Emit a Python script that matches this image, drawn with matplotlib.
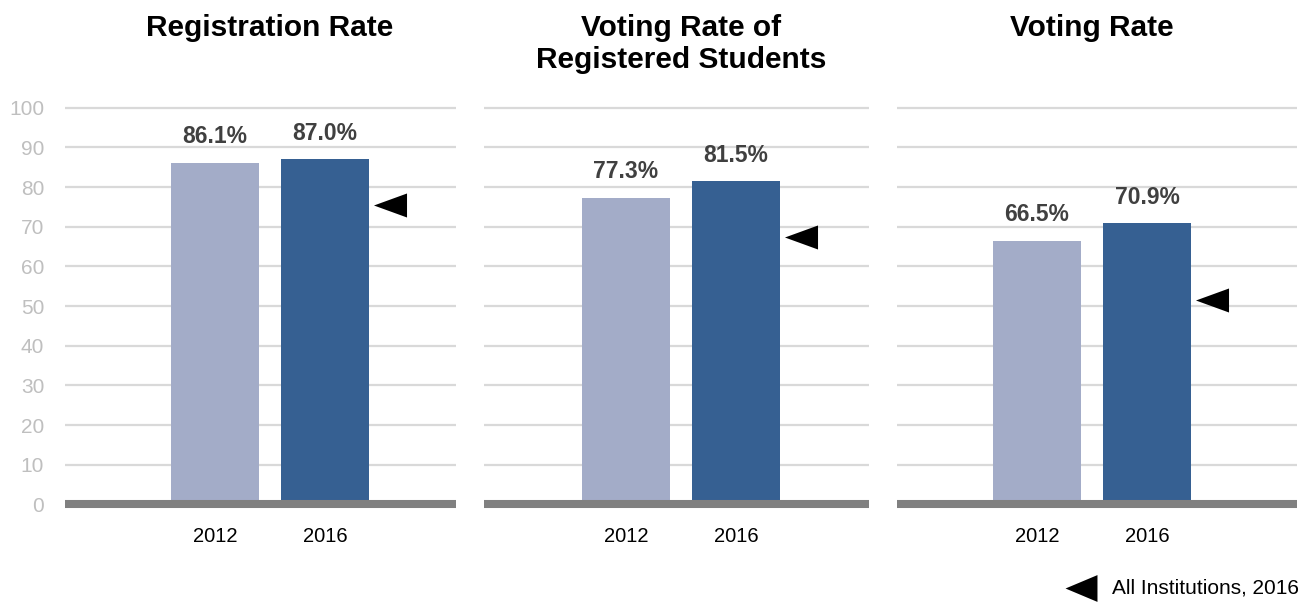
import matplotlib
matplotlib.use("Agg")
import matplotlib.pyplot as plt
from matplotlib.lines import Line2D

plt.rcParams['font.family'] = ['Liberation Sans', 'DejaVu Sans']

# ---- data ----
years = ['2012', '2016']
titles = ['Registration Rate', 'Voting Rate of\nRegistered Students', 'Voting Rate']
rate_2012 = [86.1, 77.3, 66.5]
rate_2016 = [87.0, 81.5, 70.9]
all_institutions_2016 = [75.4, 67.5, 51.4]
legend_label = 'All Institutions, 2016'
yticks = [0, 10, 20, 30, 40, 50, 60, 70, 80, 90, 100]

# ---- style ----
c_2012 = '#a3acc8'
c_2016 = '#366092'
grid_c = '#d9d9d9'
base_c = '#808080'
W, H = 1302, 604
fig = plt.figure(figsize=(W / 100, H / 100), dpi=100)

# panel extents in pixels (left, right) and x-limits
panels_px = [(65, 456), (484, 869), (897, 1297)]
xlims = [(-1.364, 2.19), (-1.29, 2.21), (-1.27, 2.36)]
top_px, bot_px = 107.7, 504.4

tri = [(-1, 0), (1, -0.727), (1, 0.727)]

for i in range(3):
    l, r = panels_px[i]
    ax = fig.add_axes([l / W, (H - bot_px) / H, (r - l) / W, (bot_px - top_px) / H])
    ax.set_xlim(*xlims[i])
    ax.set_ylim(0, 100)
    ax.patch.set_alpha(0)
    for s in ax.spines.values():
        s.set_visible(False)
    for y in yticks[1:]:
        ax.axhline(y, color=grid_c, lw=1.6, zorder=0, clip_on=False,
                   solid_capstyle='butt')
    x = [0, 1]
    vals = [rate_2012[i], rate_2016[i]]
    ax.bar(x, vals, width=0.8, color=[c_2012, c_2016], zorder=2)
    ax.axhline(0, color=base_c, lw=5.8, zorder=3, clip_on=False,
               solid_capstyle='butt')
    for xi, v in zip(x, vals):
        ax.annotate(f'{v:.1f}%', (xi, v), xytext=(0, 14), textcoords='offset points',
                    ha='center', va='baseline', fontsize=16.5, fontweight='bold',
                    color='#404040')
    ax.plot([1.59], [all_institutions_2016[i]], marker=tri, markersize=23.8,
            color='black', markeredgewidth=0, linestyle='none', zorder=4)
    ax.set_xticks(x)
    ax.set_xticklabels(years, fontsize=14.5, color='#000000')
    ax.tick_params(axis='x', length=0, pad=16)
    if i == 0:
        ax.set_yticks(yticks)
        ax.set_yticklabels([str(t) for t in yticks], fontsize=15, color='#bfbfbf')
        ax.tick_params(axis='y', length=0, pad=15)
    else:
        ax.set_yticks([])
    # title centered over bar pair
    tx_px = l + (0.5 - xlims[i][0]) / (xlims[i][1] - xlims[i][0]) * (r - l)
    fig.text(tx_px / W, 1 - 14 / H, titles[i], ha='center', va='top',
             fontsize=21.5, fontweight='bold', color='#000000', linespacing=1.2)

# legend
fig.add_artist(Line2D([1081 / W], [1 - 588 / H], marker=[(-1, 0), (1, -0.84), (1, 0.84)],
                      markersize=23, color='black', markeredgewidth=0, linestyle='none',
                      transform=fig.transFigure))
fig.text(1112 / W, 1 - 588 / H, legend_label, ha='left', va='center', fontsize=15,
         color='#000000')

fig.savefig('out.png', dpi=100)
